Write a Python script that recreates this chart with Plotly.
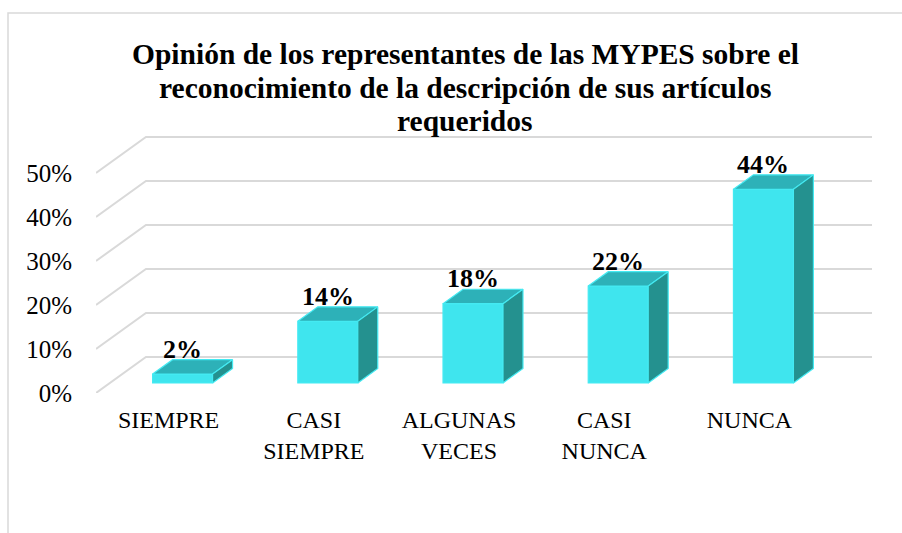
import plotly.graph_objects as go

# Survey results
categories = ["SIEMPRE", "CASI<br>SIEMPRE", "ALGUNAS<br>VECES", "CASI<br>NUNCA", "NUNCA"]
values = [2, 14, 18, 22, 44]
y_ticks = [0, 10, 20, 30, 40, 50]
y_tick_labels = ["0%", "10%", "20%", "30%", "40%", "50%"]
title_lines = ["Opinión de los representantes de las MYPES sobre el",
               "reconocimiento de la descripción de sus artículos",
               "requeridos"]

# Figure geometry (pixels)
W, H = 902, 533
ML, MR, MT, MB = 96, 30, 129, 140

# Pseudo-3D projection in data units: full wall depth and bar depth
DX, DY = 0.344, 8.2          # depth of the back wall
BAR_D = 0.4                  # bar depth as fraction of wall depth
BAR_POS = 0.28               # depth position of the bar front
BAR_W = 0.413

FRONT = "#3FE5EE"
TOP = "#2DB1B8"
SIDE = "#24918F"
EDGE = "#44EAF2"
GRID = "#D9D9D9"
FONT = "Liberation Serif, Times New Roman, serif"

n = len(categories)
xs = list(range(n))
y_max = 60

fig = go.Figure()

# Floor-to-wall gridlines (left diagonal + back wall), kept under the bars
for t in y_ticks:
    fig.add_shape(
        type="path", xref="x", yref="y", layer="below",
        path=f"M {-0.5},{t} L {-0.5 + DX},{t + DY} L {n - 0.5 + DX},{t + DY}",
        line=dict(color=GRID, width=2))

ox, oy = BAR_POS * DX, BAR_POS * DY
bdx, bdy = BAR_D * DX, BAR_D * DY

for x, v in zip(xs, values):
    xl = x + ox - BAR_W / 2
    xr = x + ox + BAR_W / 2
    top = oy + v
    # top face
    fig.add_trace(go.Scatter(
        x=[xl, xr, xr + bdx, xl + bdx, xl],
        y=[top, top, top + bdy, top + bdy, top],
        fill="toself", fillcolor=TOP, mode="lines",
        line=dict(color=EDGE, width=1.2),
        hoverinfo="skip", showlegend=False))
    # side face
    fig.add_trace(go.Scatter(
        x=[xr, xr, xr + bdx, xr + bdx, xr],
        y=[oy, top, top + bdy, oy + bdy, oy],
        fill="toself", fillcolor=SIDE, mode="lines",
        line=dict(color=EDGE, width=1.2),
        hoverinfo="skip", showlegend=False))

# front faces
fig.add_trace(go.Bar(
    x=[x + ox for x in xs], y=values, base=[oy] * n, width=BAR_W,
    marker=dict(color=FRONT, line=dict(color=EDGE, width=1.2)),
    hoverinfo="skip", showlegend=False))

# value labels sitting on the bar tops, centred over the front face
for x, v in zip(xs, values):
    fig.add_annotation(
        x=x + ox, y=oy + v + bdy, text=f"<b>{v}%</b>",
        showarrow=False, yanchor="bottom", yshift=-6,
        font=dict(family=FONT, size=26, color="#000000"))

# outer chart frame
px_x = lambda p: (p - ML) / (W - ML - MR)
px_y = lambda p: (H - MB - p) / (H - MT - MB)
fig.add_shape(type="rect", xref="paper", yref="paper",
              x0=px_x(8), x1=px_x(910), y0=px_y(545), y1=px_y(13),
              line=dict(color=GRID, width=1.5), fillcolor="rgba(0,0,0,0)",
              layer="below")

# title, one line at a time
for i, line in enumerate(title_lines):
    fig.add_annotation(
        xref="paper", yref="paper", x=px_x(W / 2 + 14), y=px_y(54 + 33.5 * i),
        text=f"<b>{line}</b>", showarrow=False,
        xanchor="center", yanchor="middle",
        font=dict(family=FONT, size=29.5, color="#000000"))

fig.update_layout(
    width=W, height=H,
    margin=dict(l=ML, r=MR, t=MT, b=MB),
    paper_bgcolor="white", plot_bgcolor="white",
    showlegend=False,
    xaxis=dict(range=[-0.5, n - 0.5 + DX], tickvals=xs, ticktext=categories,
               showgrid=False, zeroline=False, showline=False, ticks="",
               ticklabelstandoff=10,
               tickfont=dict(family=FONT, size=24, color="#000000")),
    yaxis=dict(range=[0, y_max], tickvals=y_ticks, ticktext=y_tick_labels,
               showgrid=False, zeroline=False, showline=False, ticks="",
               ticklabelstandoff=23,
               tickfont=dict(family=FONT, size=25, color="#000000")),
)

fig.write_html("out.html")
